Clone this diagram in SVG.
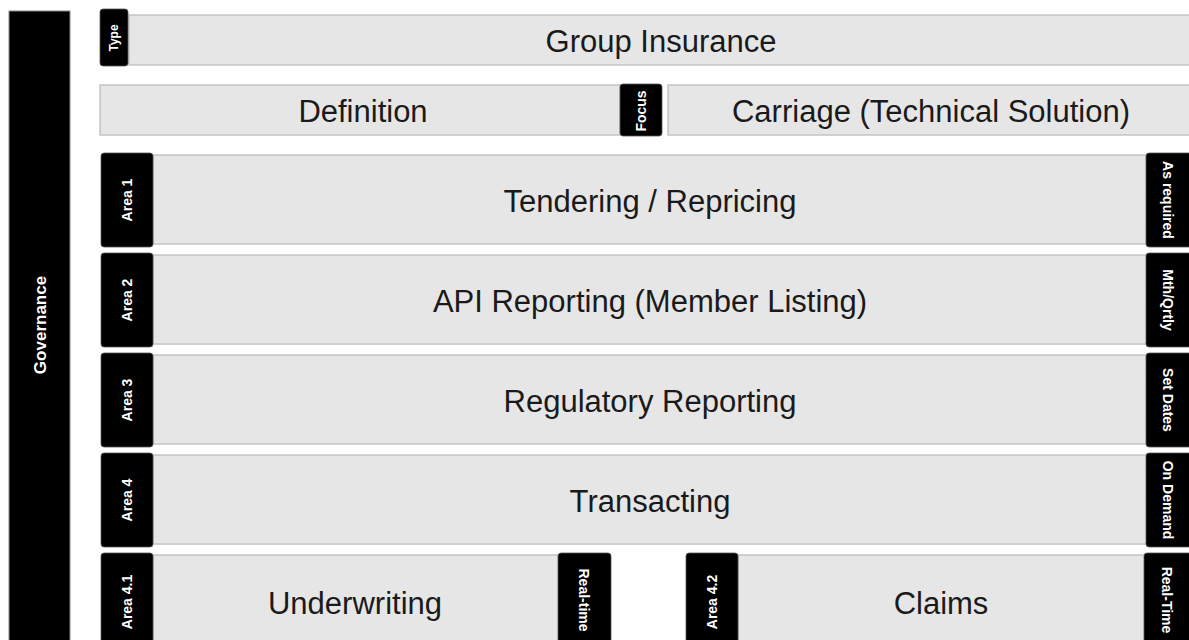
<svg xmlns="http://www.w3.org/2000/svg" width="1189" height="640" viewBox="0 0 1189 640">
<style>
.box{fill:#e6e6e6;stroke:#c4c4c4;stroke-width:1.5}
.tag{fill:#000;stroke:#555;stroke-width:0.8}
.main{font-family:"Liberation Sans",Arial,sans-serif;font-size:31px;fill:#1a1a1a;text-anchor:middle;dominant-baseline:central}
.tt{font-family:"Liberation Sans",Arial,sans-serif;font-size:14px;font-weight:bold;fill:#fff;text-anchor:middle;dominant-baseline:central}
</style>
<rect width="1189" height="640" fill="#fff"/>
<g id="governance">
<rect x="9" y="11" width="61" height="640" fill="#000" stroke="#888" stroke-width="1"/>
<text class="tt" style="font-size:17px" transform="translate(40,325) rotate(-90)">Governance</text>
</g>
<g id="group-insurance">
<rect class="box" x="129" y="15" width="1062" height="50"/>
<text class="main" x="661" y="41">Group Insurance</text>
</g>
<g id="type-tag">
<rect class="tag" x="100" y="9" width="28" height="57" rx="3"/>
<text class="tt" style="font-size:12px" transform="translate(114,38) rotate(-90)">Type</text>
</g>
<g id="definition">
<rect class="box" x="100" y="85" width="520" height="50"/>
<text class="main" x="363" y="111">Definition</text>
</g>
<g id="focus-tag">
<rect class="tag" x="620" y="84" width="42" height="52" rx="3"/>
<text class="tt" transform="translate(641,111) rotate(-90)">Focus</text>
</g>
<g id="carriage">
<rect class="box" x="668" y="85" width="523" height="50"/>
<text class="main" x="931" y="111">Carriage (Technical Solution)</text>
</g>
<g id="area1">
<rect class="box" x="153" y="155" width="994" height="89"/>
<rect class="tag" x="101" y="153" width="52" height="94" rx="3"/>
<text class="tt" transform="translate(127,200) rotate(-90)">Area 1</text>
<text class="main" x="650" y="201">Tendering / Repricing</text>
<rect class="tag" x="1146" y="153" width="46" height="94" rx="3"/>
<text class="tt" transform="translate(1168,200) rotate(90)">As required</text>
</g>
<g id="area2">
<rect class="box" x="153" y="255" width="994" height="89"/>
<rect class="tag" x="101" y="253" width="52" height="94" rx="3"/>
<text class="tt" transform="translate(127,300) rotate(-90)">Area 2</text>
<text class="main" x="650" y="301">API Reporting (Member Listing)</text>
<rect class="tag" x="1146" y="253" width="46" height="94" rx="3"/>
<text class="tt" transform="translate(1168,300) rotate(90)">Mth/Qrtly</text>
</g>
<g id="area3">
<rect class="box" x="153" y="355" width="994" height="89"/>
<rect class="tag" x="101" y="353" width="52" height="94" rx="3"/>
<text class="tt" transform="translate(127,400) rotate(-90)">Area 3</text>
<text class="main" x="650" y="401">Regulatory Reporting</text>
<rect class="tag" x="1146" y="353" width="46" height="94" rx="3"/>
<text class="tt" transform="translate(1168,400) rotate(90)">Set Dates</text>
</g>
<g id="area4">
<rect class="box" x="153" y="455" width="994" height="89"/>
<rect class="tag" x="101" y="453" width="52" height="94" rx="3"/>
<text class="tt" transform="translate(127,500) rotate(-90)">Area 4</text>
<text class="main" x="650" y="501">Transacting</text>
<rect class="tag" x="1146" y="453" width="46" height="94" rx="3"/>
<text class="tt" transform="translate(1168,500) rotate(90)">On Demand</text>
</g>
<g id="area4-1">
<rect class="box" x="153" y="555" width="410" height="100"/>
<rect class="tag" x="101" y="553" width="52" height="100" rx="3"/>
<text class="tt" transform="translate(127,602) rotate(-90)">Area 4.1</text>
<text class="main" x="355" y="603">Underwriting</text>
<rect class="tag" x="558" y="553" width="53" height="100" rx="3"/>
<text class="tt" transform="translate(584,600) rotate(90)">Real-time</text>
</g>
<g id="area4-2">
<rect class="box" x="738" y="555" width="408" height="100"/>
<rect class="tag" x="686" y="553" width="52" height="100" rx="3"/>
<text class="tt" transform="translate(712,602) rotate(-90)">Area 4.2</text>
<text class="main" x="941" y="603">Claims</text>
<rect class="tag" x="1144" y="553" width="48" height="100" rx="3"/>
<text class="tt" transform="translate(1167,600) rotate(90)">Real-Time</text>
</g>
<g id="connectors"/>
</svg>
